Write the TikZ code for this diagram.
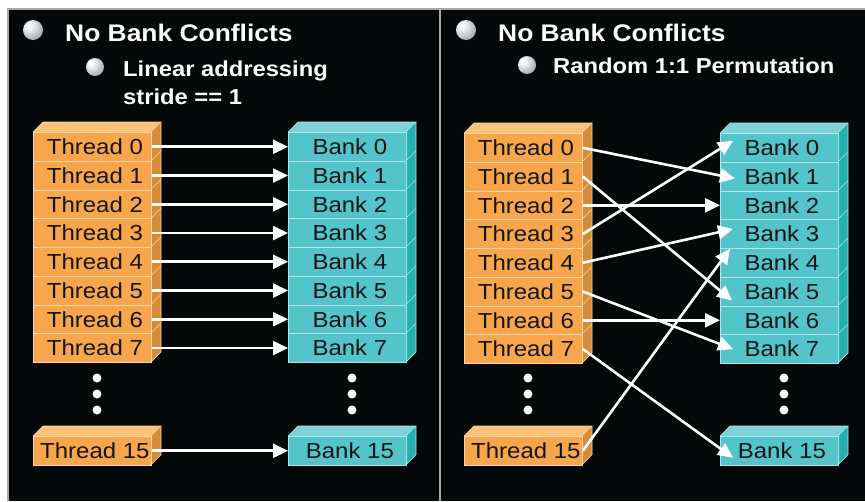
\documentclass[tikz,border=0pt]{standalone}
\usepackage{fontspec}
\setmainfont{Liberation Sans}[FakeStretch=1.1]
\usetikzlibrary{arrows.meta,calc}
\definecolor{bgblack}{HTML}{050808}
\definecolor{frame}{HTML}{A8A8A8}
\definecolor{thrfront}{RGB}{247,166,75}
\definecolor{thrtop}{RGB}{251,195,122}
\definecolor{thrside}{RGB}{214,139,56}
\definecolor{thrline}{RGB}{253,214,165}
\definecolor{bnkfront}{RGB}{82,196,202}
\definecolor{bnktop}{RGB}{125,211,215}
\definecolor{bnkside}{RGB}{36,176,174}
\definecolor{bnkline}{RGB}{175,230,232}
\definecolor{txtdark}{HTML}{151515}
\definecolor{sph1}{RGB}{252,252,254}
\definecolor{sph2}{RGB}{210,210,218}
\definecolor{sph3}{RGB}{150,150,162}
\definecolor{sph4}{RGB}{90,90,100}
\pgfdeclareradialshading{spherelight}{\pgfpoint{-12bp}{12bp}}{%
  color(0bp)=(sph1); color(5bp)=(sph1); color(20bp)=(sph2);
  color(40bp)=(sph3); color(60bp)=(sph4); color(100bp)=(sph4)}
\begin{document}
\begin{tikzpicture}[x=1pt,y=-1pt,
  rowbase/.style={line width=0.8pt, minimum width=118pt, minimum height=28.75pt,
    inner sep=0pt, font=\fontsize{21.8}{24}\selectfont, text=txtdark, anchor=north west},
  rowT/.style={rowbase, draw=thrline, fill=thrfront},
  rowB/.style={rowbase, draw=bnkline, fill=bnkfront},
  arr/.style={draw=white, line width=2.6pt, -{Triangle[length=15pt,width=14pt]}},
  wdot/.style={circle, fill=white, minimum size=9pt, inner sep=0pt},
  bullet/.style={circle, shading=spherelight, inner sep=0pt},
  title/.style={text=white, font=\bfseries\fontsize{24}{28}\selectfont, anchor=base west, inner sep=0pt},
  subtitle/.style={text=white, font=\bfseries\fontsize{21.6}{26}\selectfont, anchor=base west, inner sep=0pt},
]
\useasboundingbox (0,0) rectangle (865,501);
% background and frame
\fill[white] (0,0) rectangle (865,501);
\fill[bgblack] (8,9) rectangle (865,501);
\draw[frame, line width=2pt] (8,501) -- (8,9) -- (865,9);
\draw[frame, line width=2pt] (440,9) -- (440,501);

% headings
\node[bullet, minimum size=20pt] (lb1) at (33,30) {};
\node[title] (lh1) at (65,41) {No Bank Conflicts};
\node[bullet, minimum size=18pt] (lb2) at (95,67) {};
\node[subtitle] (lh2) at (123,76) {Linear addressing};
\node[subtitle] (lh3) at (123,104) {stride == 1};

\node[bullet, minimum size=20pt] (rb1) at (466,30) {};
\node[title] (rh1) at (498,41) {No Bank Conflicts};
\node[bullet, minimum size=18pt] (rb2) at (527,65) {};
\node[subtitle] (rh2) at (553,73) {Random 1:1 Permutation};

% stacks
\foreach \p/\tx/\bx/\ty in {l/33/288/132, r/464/720/133}{
  % thread stack
  \fill[thrtop] (\tx,\ty) -- ++(10,-10) -- ++(118,0) -- ++(-10,10) -- cycle;
  \fill[thrside] (\tx+118,\ty) -- ++(10,-10) -- ++(0,230) -- ++(-10,10) -- cycle;
  \draw[thrline, line width=0.6pt] (\tx,\ty) -- ++(10,-10) -- ++(118,0) -- ++(0,230) -- ++(-10,10);
  \draw[thrline, line width=0.6pt] (\tx+118,\ty) -- ++(10,-10);
  \foreach \i in {0,...,7}{
    \node[rowT] (\p t\i) at (\tx,\ty+28.75*\i) {\hspace*{5pt}Thread \i};
    \draw[thrline, line width=0.4pt] (\tx+118,\ty+28.75*\i+28.75) -- ++(10,-10);
  }
  % bank stack
  \fill[bnktop] (\bx,\ty) -- ++(10,-10) -- ++(118,0) -- ++(-10,10) -- cycle;
  \fill[bnkside] (\bx+118,\ty) -- ++(10,-10) -- ++(0,230) -- ++(-10,10) -- cycle;
  \draw[bnkline, line width=0.6pt] (\bx,\ty) -- ++(10,-10) -- ++(118,0) -- ++(0,230) -- ++(-10,10);
  \draw[bnkline, line width=0.6pt] (\bx+118,\ty) -- ++(10,-10);
  \foreach \i in {0,...,7}{
    \node[rowB] (\p b\i) at (\bx,\ty+28.75*\i) {\hspace*{5pt}Bank \i};
    \draw[bnkline, line width=0.4pt] (\bx+118,\ty+28.75*\i+28.75) -- ++(10,-10);
  }
  % thread 15
  \fill[thrtop] (\tx,436) -- ++(10,-10) -- ++(118,0) -- ++(-10,10) -- cycle;
  \fill[thrside] (\tx+118,436) -- ++(10,-10) -- ++(0,28.75) -- ++(-10,10) -- cycle;
  \draw[thrline, line width=0.6pt] (\tx,436) -- ++(10,-10) -- ++(118,0) -- ++(0,28.75) -- ++(-10,10);
  \draw[thrline, line width=0.6pt] (\tx+118,436) -- ++(10,-10);
  \node[rowT] (\p t15) at (\tx,436) {\hspace*{5pt}Thread 15};
  % bank 15
  \fill[bnktop] (\bx,436) -- ++(10,-10) -- ++(118,0) -- ++(-10,10) -- cycle;
  \fill[bnkside] (\bx+118,436) -- ++(10,-10) -- ++(0,28.75) -- ++(-10,10) -- cycle;
  \draw[bnkline, line width=0.6pt] (\bx,436) -- ++(10,-10) -- ++(118,0) -- ++(0,28.75) -- ++(-10,10);
  \draw[bnkline, line width=0.6pt] (\bx+118,436) -- ++(10,-10);
  \node[rowB] (\p b15) at (\bx,436) {\hspace*{5pt}Bank 15};
  % dots
  \foreach \yy [count=\k] in {378,394,410}{
    \node[wdot] (\p td\k) at (\tx+64,\yy) {};
    \node[wdot] (\p bd\k) at (\bx+64,\yy) {};
  }
}

% left arrows: linear
\foreach \i in {0,...,7,15}{
  \draw[arr] (lt\i.east) -- (lb\i.west);
}

% right arrows: permutation
\draw[arr] (rt0.east) -- ($(rb1.west)+(15,2)$);
\draw[arr] (rt1.east) -- ($(rb5.west)+(12,9)$);
\draw[arr] (rt2.east) -- (rb2.west);
\draw[arr] (rt3.east) -- ($(rb0.west)+(13,-7)$);
\draw[arr] (rt4.east) -- ($(rb3.west)+(13,-5)$);
\draw[arr] (rt5.east) -- ($(rb7.west)+(13,0)$);
\draw[arr] (rt6.east) -- (rb6.west);
\draw[arr] (rt7.east) -- ($(rb15.west)+(13,7)$);
\draw[arr] (rt15.east) -- ($(rb4.west)+(10,-14)$);
\end{tikzpicture}
\end{document}
